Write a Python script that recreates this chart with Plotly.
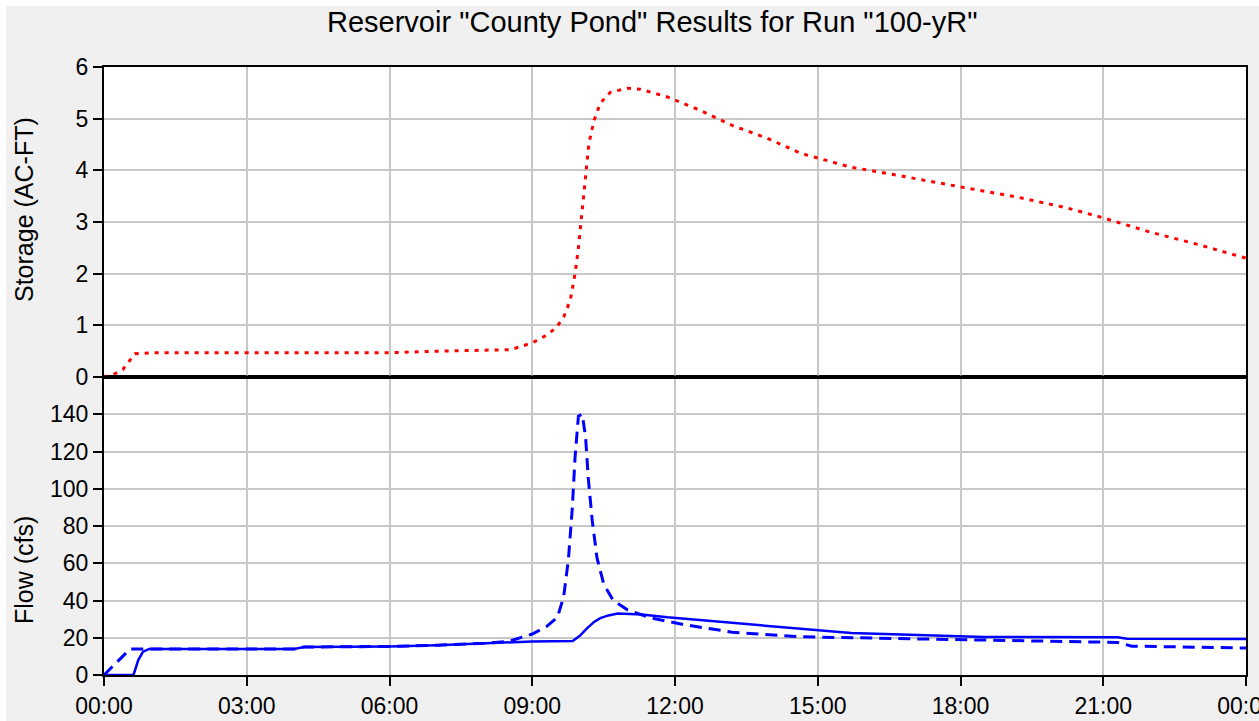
import plotly.graph_objects as go

# ---- data (hours since 00:00) ----
storage_hours = [0, 0.2, 0.4, 0.65, 1.0, 3.0, 6.0, 7.0, 8.0, 8.55, 9.0, 9.3, 9.5, 9.66, 9.8, 9.9, 9.97,
                 10.05, 10.12, 10.19, 10.3, 10.43, 10.64, 11.0, 11.27, 11.84, 12.53, 13.2, 13.94, 14.64,
                 15.7, 16.4, 18.0, 19.2, 20.25, 21.0, 22.0, 23.05, 24.0]
storage_acft = [0, 0.05, 0.15, 0.45, 0.47, 0.47, 0.47, 0.5, 0.52, 0.53, 0.66, 0.81, 0.95, 1.16, 1.49, 2.0,
                2.5, 3.23, 4.0, 4.52, 4.97, 5.3, 5.51, 5.59, 5.57, 5.42, 5.16, 4.87, 4.62, 4.33,
                4.06, 3.95, 3.68, 3.48, 3.27, 3.08, 2.8, 2.55, 2.3]

inflow_hours = [0, 0.55, 0.9, 4.0, 4.2, 6.0, 7.0, 8.0, 8.5, 9.0, 9.3, 9.53, 9.66, 9.76, 9.84, 9.9, 9.97,
                10.05, 10.12, 10.18, 10.26, 10.36, 10.5, 10.7, 11.0, 11.5, 12.2, 13.2, 14.64, 15.7,
                17.0, 18.5, 20.0, 21.3, 21.6, 23.0, 24.0]
inflow_cfs = [0, 14, 14, 14, 15, 15.3, 16, 17, 18, 22, 26, 31, 42, 62, 89, 117, 139,
              140, 128, 105, 83, 63, 49, 40, 35, 30.6, 27, 23, 20.5, 20,
              19.5, 19, 18.3, 17.5, 15.5, 15, 14.5]

outflow_hours = [0, 0.62, 0.72, 0.82, 0.95, 4.0, 4.2, 6.0, 7.0, 8.0, 9.0, 9.85, 10.0, 10.15, 10.3,
                 10.43, 10.6, 10.8, 11.3, 11.84, 13.2, 14.64, 15.7, 17.1, 18.5, 21.3, 21.5, 24.0]
outflow_cfs = [0, 0, 8, 12.5, 14, 14, 15, 15.3, 16, 17, 18, 18.3, 21, 25, 28.5,
               30.5, 32, 33, 32.5, 31, 28, 24.5, 22.5, 21.5, 20.4, 20.3, 19.5, 19.3]

tick_hours = [0, 3, 6, 9, 12, 15, 18, 21, 24]
tick_labels = ["00:00", "03:00", "06:00", "09:00", "12:00", "15:00", "18:00", "21:00", "00:00"]

title_text = 'Reservoir "County Pond" Results for Run "100-yR"'

# ---- figure ----
W, H = 1259, 721
ml, mr, mt, mb = 104, 13, 67, 46
pw, ph = W - ml - mr, H - mt - mb
split = (675 - 377) / ph

def px_x(px):
    return (px - ml) / pw

def px_y(py):
    return (H - mb - py) / ph

fig = go.Figure()
fig.add_trace(go.Scatter(x=storage_hours, y=storage_acft, mode="lines",
                         line=dict(color="#ff0000", width=3, dash="4px,6px"),
                         xaxis="x2", yaxis="y2", showlegend=False, cliponaxis=False))
fig.add_trace(go.Scatter(x=inflow_hours, y=inflow_cfs, mode="lines",
                         line=dict(color="#0000ff", width=3, dash="12px,7px"),
                         xaxis="x", yaxis="y", showlegend=False))
fig.add_trace(go.Scatter(x=outflow_hours, y=outflow_cfs, mode="lines",
                         line=dict(color="#0000ff", width=2.5),
                         xaxis="x", yaxis="y", showlegend=False))

font_family = "Liberation Sans, Arial, sans-serif"
grid = "#c8c8c8"

axis_common = dict(showline=True, linecolor="black", linewidth=2, mirror=True, automargin=False,
                   showgrid=True, gridcolor=grid, gridwidth=2, zeroline=False)

fig.update_layout(
    width=W, height=H,
    margin=dict(l=ml, r=mr, t=mt, b=mb, autoexpand=False),
    paper_bgcolor="#f0f0f0",
    plot_bgcolor="#ffffff",
    font=dict(family=font_family, size=23, color="black"),
    xaxis=dict(domain=[0, 1], range=[0, 24], tickvals=tick_hours, ticktext=tick_labels,
               ticks="outside", ticklen=9, tickwidth=2, tickcolor="black", anchor="y",
               ticklabeloverflow="allow", **axis_common),
    yaxis=dict(domain=[0, split], range=[0, 160], tickvals=[0, 20, 40, 60, 80, 100, 120, 140],
               ticks="outside", ticklen=9, tickwidth=2, tickcolor="black", anchor="x",
               **axis_common),
    xaxis2=dict(domain=[0, 1], range=[0, 24], tickvals=tick_hours, showticklabels=False,
                ticks="", anchor="y2", **axis_common),
    yaxis2=dict(domain=[split, 1], range=[0, 6], tickvals=[0, 1, 2, 3, 4, 5, 6],
                ticks="outside", ticklen=9, tickwidth=2, tickcolor="black", anchor="x2",
                **axis_common),
    shapes=[
        dict(type="rect", xref="paper", yref="paper", x0=px_x(-5), x1=px_x(6),
             y0=px_y(H + 5), y1=px_y(-5), fillcolor="#ffffff", line=dict(width=0), layer="below"),
        dict(type="rect", xref="paper", yref="paper", x0=px_x(-5), x1=px_x(W + 5),
             y0=px_y(6), y1=px_y(-5), fillcolor="#ffffff", line=dict(width=0), layer="below"),
        dict(type="line", xref="paper", yref="paper", x0=0, x1=1, y0=split, y1=split,
             line=dict(color="black", width=3)),
    ],
    annotations=[
        dict(text=title_text, xref="paper", yref="paper", x=px_x(652), y=px_y(22),
             xanchor="center", yanchor="middle", showarrow=False, font=dict(size=29)),
        dict(text="Storage (AC-FT)", xref="paper", yref="paper", x=px_x(24), y=px_y(210),
             xanchor="center", yanchor="middle", textangle=-90, showarrow=False, font=dict(size=25)),
        dict(text="Flow (cfs)", xref="paper", yref="paper", x=px_x(24), y=px_y(570),
             xanchor="center", yanchor="middle", textangle=-90, showarrow=False, font=dict(size=25)),
    ],
)

fig.write_html("out.html", config={"displayModeBar": False},
               post_script="document.body.style.margin='0';document.body.style.overflow='hidden';")
